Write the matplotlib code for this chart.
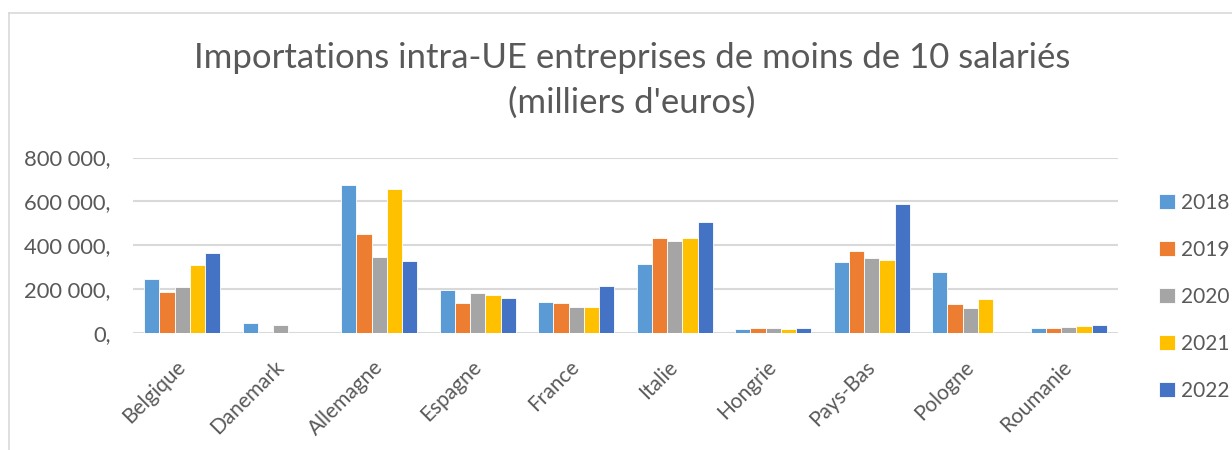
import matplotlib.pyplot as plt
import numpy as np
from matplotlib.lines import Line2D
from matplotlib.ticker import FuncFormatter
import matplotlib.transforms as mtransforms

# Values (milliers d'euros)
pays = ['Belgique', 'Danemark', 'Allemagne', 'Espagne', 'France',
        'Italie', 'Hongrie', 'Pays-Bas', 'Pologne', 'Roumanie']
annees = ['2018', '2019', '2020', '2021', '2022']
v2018 = [247000, 48000, 674000, 198000, 142000, 317000, 22000, 323000, 281000, 24000]
v2019 = [187000, 0, 453000, 138000, 137000, 432000, 24000, 375000, 133000, 27000]
v2020 = [210000, 37000, 347000, 184000, 120000, 420000, 25000, 343000, 116000, 31000]
v2021 = [311000, 0, 655000, 175000, 120000, 434000, 19000, 334000, 155000, 34000]
v2022 = [364000, 0, 331000, 163000, 216000, 506000, 25000, 588000, 0, 39000]
couleurs = ['#5B9BD5', '#ED7D31', '#A5A5A5', '#FFC000', '#4472C4']

series = [v2018, v2019, v2020, v2021, v2022]
txt = '#595959'
plt.rcParams['font.family'] = ['Lato', 'DejaVu Sans']

fig = plt.figure(figsize=(12.32, 4.5), dpi=100)
ax = fig.add_axes([0.108, 0.259, 0.7995, 0.391])

x = np.arange(len(pays))
w = 0.155
for i, (vals, c) in enumerate(zip(series, couleurs)):
    ax.bar(x + (i - 2) * w, vals, width=w, color=c, edgecolor='white',
           linewidth=0.6, label=annees[i], zorder=3)

ax.set_xlim(-0.5, len(pays) - 0.5)
ax.set_ylim(0, 800000)
ax.set_yticks([0, 200000, 400000, 600000, 800000])
ax.yaxis.set_major_formatter(FuncFormatter(
    lambda v, p: '{:,.0f},'.format(v).replace(',', ' ').rstrip() + ','
    if v else '0,'))
ax.grid(axis='y', color='#D9D9D9', linewidth=1.5, zorder=0)
for s in ax.spines.values():
    s.set_visible(False)
ax.tick_params(length=0)
ax.tick_params(axis='y', labelsize=15.8, labelcolor=txt, pad=16)
ax.set_xticks(x)
ax.set_xticklabels(pays, rotation=45, ha='right', rotation_mode='anchor',
                   fontsize=15, color=txt)
ax.tick_params(axis='x', pad=17)
# nudge the rotated labels a little to the left, like the original
shift = mtransforms.ScaledTranslation(-5 / 72, 0, fig.dpi_scale_trans)
for lbl in ax.get_xticklabels():
    lbl.set_transform(lbl.get_transform() + shift)

fig.text(0.513, 0.87, "Importations intra-UE entreprises de moins de 10 salariés",
         ha='center', va='center', fontsize=25, color=txt)
fig.text(0.513, 0.772, "(milliers d'euros)",
         ha='center', va='center', fontsize=25, color=txt)

leg = fig.legend(loc='upper left', bbox_to_anchor=(0.941, 0.572), frameon=False,
                 fontsize=15, labelcolor=txt, handlelength=0.75, handleheight=0.75,
                 handletextpad=0.3, labelspacing=1.3, borderpad=0,
                 borderaxespad=0)

# light frame of the chart area
fig.add_artist(Line2D([0.0073, 0.0073], [0, 0.971], color='#D9D9D9', linewidth=1.2))
fig.add_artist(Line2D([0.0073, 1.0], [0.971, 0.971], color='#D9D9D9', linewidth=1.2))

fig.savefig('out.png', dpi=100)
